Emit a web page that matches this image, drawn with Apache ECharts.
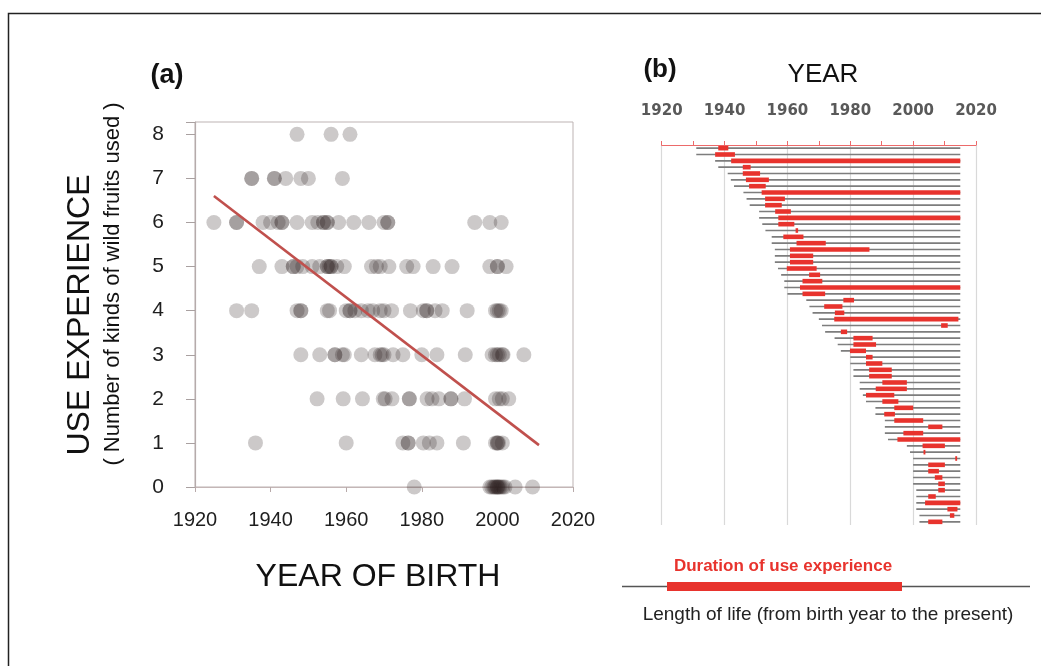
<!DOCTYPE html>
<html>
<head>
<meta charset="utf-8">
<script src="https://cdn.jsdelivr.net/npm/echarts@6/dist/echarts.min.js"></script>
<style>html,body{margin:0;padding:0;background:#fff;}#c{width:1041px;height:666px;}</style>
</head>
<body>
<div id="c"></div>
<script>
// ---------- Panel (a): birth year of each person, grouped by number of kinds used ----------
const usesAt8 = [1947, 1956, 1961];
const usesAt7 = [1935, 1935, 1941, 1941, 1944, 1948, 1950, 1959];
const usesAt6 = [1925, 1931, 1931, 1938, 1940, 1942, 1943, 1943, 1947, 1951, 1952.5, 1954, 1954, 1955, 1955, 1958, 1962, 1966, 1970, 1971, 1971, 1994, 1998, 2001];
const usesAt5 = [1937, 1943, 1946, 1946, 1947, 1948.5, 1951, 1953, 1955, 1955, 1955.5, 1956, 1956, 1957.5, 1959.5, 1966.7, 1968, 1969, 1971.3, 1976, 1977.7, 1983, 1988, 1998, 2000, 2000, 2002.3];
const usesAt4 = [1931, 1935, 1947, 1948, 1948, 1955, 1955.6, 1960, 1961, 1961, 1962.3, 1964, 1965.8, 1967, 1969, 1970, 1972, 1977, 1980.4, 1981.3, 1981.3, 1983.5, 1985.4, 1992, 1999.5, 2000, 2000.5, 2001];
const usesAt3 = [1948, 1953, 1957, 1957, 1959, 1959.5, 1964, 1967.6, 1969, 1969.5, 1970, 1972.4, 1975, 1980, 1984, 1991.5, 1998.6, 1999.5, 2000, 2000.5, 2001.3, 2001.5, 2007];
const usesAt2 = [1952.3, 1959.2, 1964.3, 1969.8, 1970.3, 1972.1, 1976.7, 1976.7, 1981.4, 1982.7, 1984.5, 1987.7, 1987.7, 1991.3, 1999.5, 2000.5, 2001.3, 2003];
const usesAt1 = [1936, 1960, 1975, 1976.4, 1976.4, 1980.4, 1982, 1984, 1991, 1999.5, 2000, 2000, 2000.3, 2001.3];
const usesAt0 = [1978, 1998, 1998.5, 1999, 1999.3, 1999.6, 2000, 2000, 2000.3, 2000.6, 2001, 2001.5, 2002, 2004.7, 2009.3];
const regressionYears = [1925, 2011];
const regressionValues = [6.6, 0.95];
const xTicksA = [1920, 2020, 20];   // min, max, step
const yTicksA = [0, 8];

// ---------- Panel (b): one row per person ----------
const birthYears = [1931,1931,1937,1938,1941,1942,1943,1946,1947,1948,
  1951,1951,1952,1953,1955,1955,1956,1956,1956,1957,
  1958,1959,1959,1960,1966,1967,1968,1970,1971,1972,
  1975,1976,1977,1980,1980,1981,1981,1983,1983,1984,
  1985,1988,1988,1991,1991,1991,1992,1998,1999,2000,
  2000,2000,2000,2000,2001,2001,2001,2001,2002,2002];
const useStart = [1938,1937,1942.1,1945.8,1945.8,1946.8,1947.8,1951.8,1952.9,1952.9,
  1956.1,1957.1,1957.1,1962.6,1958.7,1962.9,1960.8,1960.8,1960.8,1959.8,
  1966.9,1964.8,1964,1964.8,1977.8,1971.7,1975.1,1974.9,2008.9,1977,
  1981,1981,1979.9,1985,1985,1986,1986,1990.2,1988.1,1985,
  1990.2,1994,1990.8,1994,2004.8,1996.9,1995,2003,2003.3,2013.4,
  2004.8,2004.8,2006.9,2008,2008,2004.8,2003.8,2010.9,2011.7,2004.8];
const useEnd = [1941.2,1943.3,2015,1948.3,1951.3,1954.1,1953.1,2015,1959.2,1958.2,
  1961.1,2015,1962.2,1963.4,1965.1,1972.2,1986.1,1968.2,1968.2,1969.3,
  1970.4,1971.1,2015,1972,1981.2,1977.5,1978.1,2014.4,2011,1979,
  1987.1,1988.2,1985,1987.1,1990.2,1993.2,1993.2,1998,1998,1994,
  1995.3,2000,1994.2,2003.2,2009.3,2003.2,2015,2010.1,2003.9,2014,
  2010.1,2008.2,2009.3,2010.1,2010.1,2007.2,2015,2014.1,2013.1,2009.3];
const presentYear = 2015;
const xTicksB = [1920, 2020, 20];

// ---------- build ----------
const countRows = [usesAt0, usesAt1, usesAt2, usesAt3, usesAt4, usesAt5, usesAt6, usesAt7, usesAt8];
const scatterData = [];
countRows.forEach((row, k) => row.forEach(y => scatterData.push([y, k])));
const rowIds = birthYears.map((_, i) => 'P' + (i + 1));
const lifeData = birthYears.map((b, i) => [i, b, presentYear]);
const useData = useStart.map((s, i) => [i, s, useEnd[i]]);

function barRenderer(color, thick) {
  return function (params, api) {
    const r = api.value(0);
    const a = api.coord([api.value(1), r]);
    const b = api.coord([api.value(2), r]);
    return {
      type: 'rect',
      shape: { x: a[0], y: a[1] - thick / 2, width: Math.max(b[0] - a[0], 1.5), height: thick },
      style: { fill: color }
    };
  };
}
const plainYear = v => String(v);

const SANS = "'Liberation Sans', Arial, sans-serif";
const chart = echarts.init(document.getElementById('c'), null, { renderer: 'canvas' });
chart.setOption({
  backgroundColor: '#ffffff',
  animation: false,
  grid: [
    { left: 195, top: 122, width: 378, height: 365, show: true, borderColor: '#bdb3b3', borderWidth: 1, backgroundColor: 'transparent' },
    { left: 661.7, top: 145, width: 314.3, height: 380, show: false }
  ],
  xAxis: [
    {
      gridIndex: 0, type: 'value', min: xTicksA[0], max: xTicksA[1], interval: xTicksA[2],
      axisLine: { show: true, onZero: false, lineStyle: { color: '#c4b6b6', width: 1.2 } },
      axisTick: { show: true, length: 5, lineStyle: { color: '#b8aaaa' } },
      axisLabel: { margin: 23, fontSize: 20, color: '#1e1e1e', fontFamily: SANS, formatter: plainYear },
      splitLine: { show: false }
    },
    {
      gridIndex: 1, type: 'value', position: 'top', min: xTicksB[0], max: xTicksB[1], interval: xTicksB[2],
      axisLine: { show: true, lineStyle: { color: '#ec6a6a', width: 1.2 } },
      axisTick: { show: true, length: 4, lineStyle: { color: '#ec6a6a' } },
      minorTick: { show: true, splitNumber: 2, length: 4, lineStyle: { color: '#ec6a6a' } },
      axisLabel: { margin: 26, fontSize: 15, fontWeight: 'bold', color: '#595959', fontFamily: "'DejaVu Sans', Verdana, sans-serif", formatter: plainYear },
      splitLine: { show: true, lineStyle: { color: '#d9d9d9', width: 1.2 } }
    }
  ],
  yAxis: [
    {
      gridIndex: 0, type: 'value', min: yTicksA[0], max: 8.28, interval: 1,
      axisLine: { show: true, lineStyle: { color: '#b5abab', width: 1.2 } },
      axisTick: { show: true, length: 9, lineStyle: { color: '#a9a0a0' } },
      axisLabel: { margin: 31, fontSize: 21, color: '#1e1e1e', fontFamily: SANS,
        formatter: v => (Number.isInteger(v) && v <= yTicksA[1]) ? String(v) : '' },
      splitLine: { show: false }
    },
    {
      gridIndex: 1, type: 'category', data: rowIds, inverse: true, show: false
    }
  ],
  series: [
    {
      type: 'scatter', xAxisIndex: 0, yAxisIndex: 0, data: scatterData,
      symbolSize: 15, itemStyle: { color: 'rgba(45,33,33,0.30)' }, z: 2
    },
    {
      type: 'line', xAxisIndex: 0, yAxisIndex: 0,
      data: regressionYears.map((y, i) => [y, regressionValues[i]]),
      showSymbol: false, symbol: 'none', lineStyle: { color: '#c0504d', width: 2.6 }, z: 3
    },
    {
      type: 'custom', xAxisIndex: 1, yAxisIndex: 1, data: lifeData,
      encode: { x: [1, 2], y: 0 }, renderItem: barRenderer('#7d7d7d', 1.6), z: 2
    },
    {
      type: 'custom', xAxisIndex: 1, yAxisIndex: 1, data: useData,
      encode: { x: [1, 2], y: 0 }, renderItem: barRenderer('#e8332d', 4.6), z: 3
    }
  ],
  graphic: [
    { type: 'polyline', shape: { points: [[8.5, 680], [8.5, 13.5], [1060, 13.5]] }, style: { stroke: '#222', lineWidth: 1.5, fill: null } },
    { type: 'text', x: 167, y: 76, style: { text: '(a)', font: "bold 27px 'Liberation Sans', Arial", fill: '#111', align: 'center', verticalAlign: 'middle' } },
    { type: 'text', x: 660, y: 70, style: { text: '(b)', font: "bold 26px 'Liberation Sans', Arial", fill: '#111', align: 'center', verticalAlign: 'middle' } },
    { type: 'text', x: 823, y: 75, style: { text: 'YEAR', font: "26px 'Liberation Sans', Arial", fill: '#111', align: 'center', verticalAlign: 'middle' } },
    { type: 'text', x: 80, y: 315, rotation: Math.PI / 2, style: { text: 'USE EXPERIENCE', font: "32px 'Liberation Sans', Arial", fill: '#111', align: 'center', verticalAlign: 'middle' } },
    { type: 'text', x: 113, y: 284, rotation: Math.PI / 2, style: { text: '( Number of kinds of wild fruits used )', font: "22px 'Liberation Sans', Arial", fill: '#111', align: 'center', verticalAlign: 'middle' } },
    { type: 'text', x: 378, y: 577, style: { text: 'YEAR OF BIRTH', font: "32px 'Liberation Sans', Arial", fill: '#111', align: 'center', verticalAlign: 'middle' } },
    { type: 'text', x: 783, y: 566, style: { text: 'Duration of use experience', font: "bold 17px 'Liberation Sans', Arial", fill: '#e8332d', align: 'center', verticalAlign: 'middle' } },
    { type: 'line', shape: { x1: 622, y1: 586.5, x2: 1030, y2: 586.5 }, style: { stroke: '#555', lineWidth: 1.6 } },
    { type: 'rect', shape: { x: 667, y: 582, width: 235, height: 9 }, style: { fill: '#e8332d' } },
    { type: 'text', x: 828, y: 615, style: { text: 'Length of life (from birth year to the present)', font: "19px 'Liberation Sans', Arial", fill: '#222', align: 'center', verticalAlign: 'middle' } }
  ]
});
</script>
</body>
</html>
